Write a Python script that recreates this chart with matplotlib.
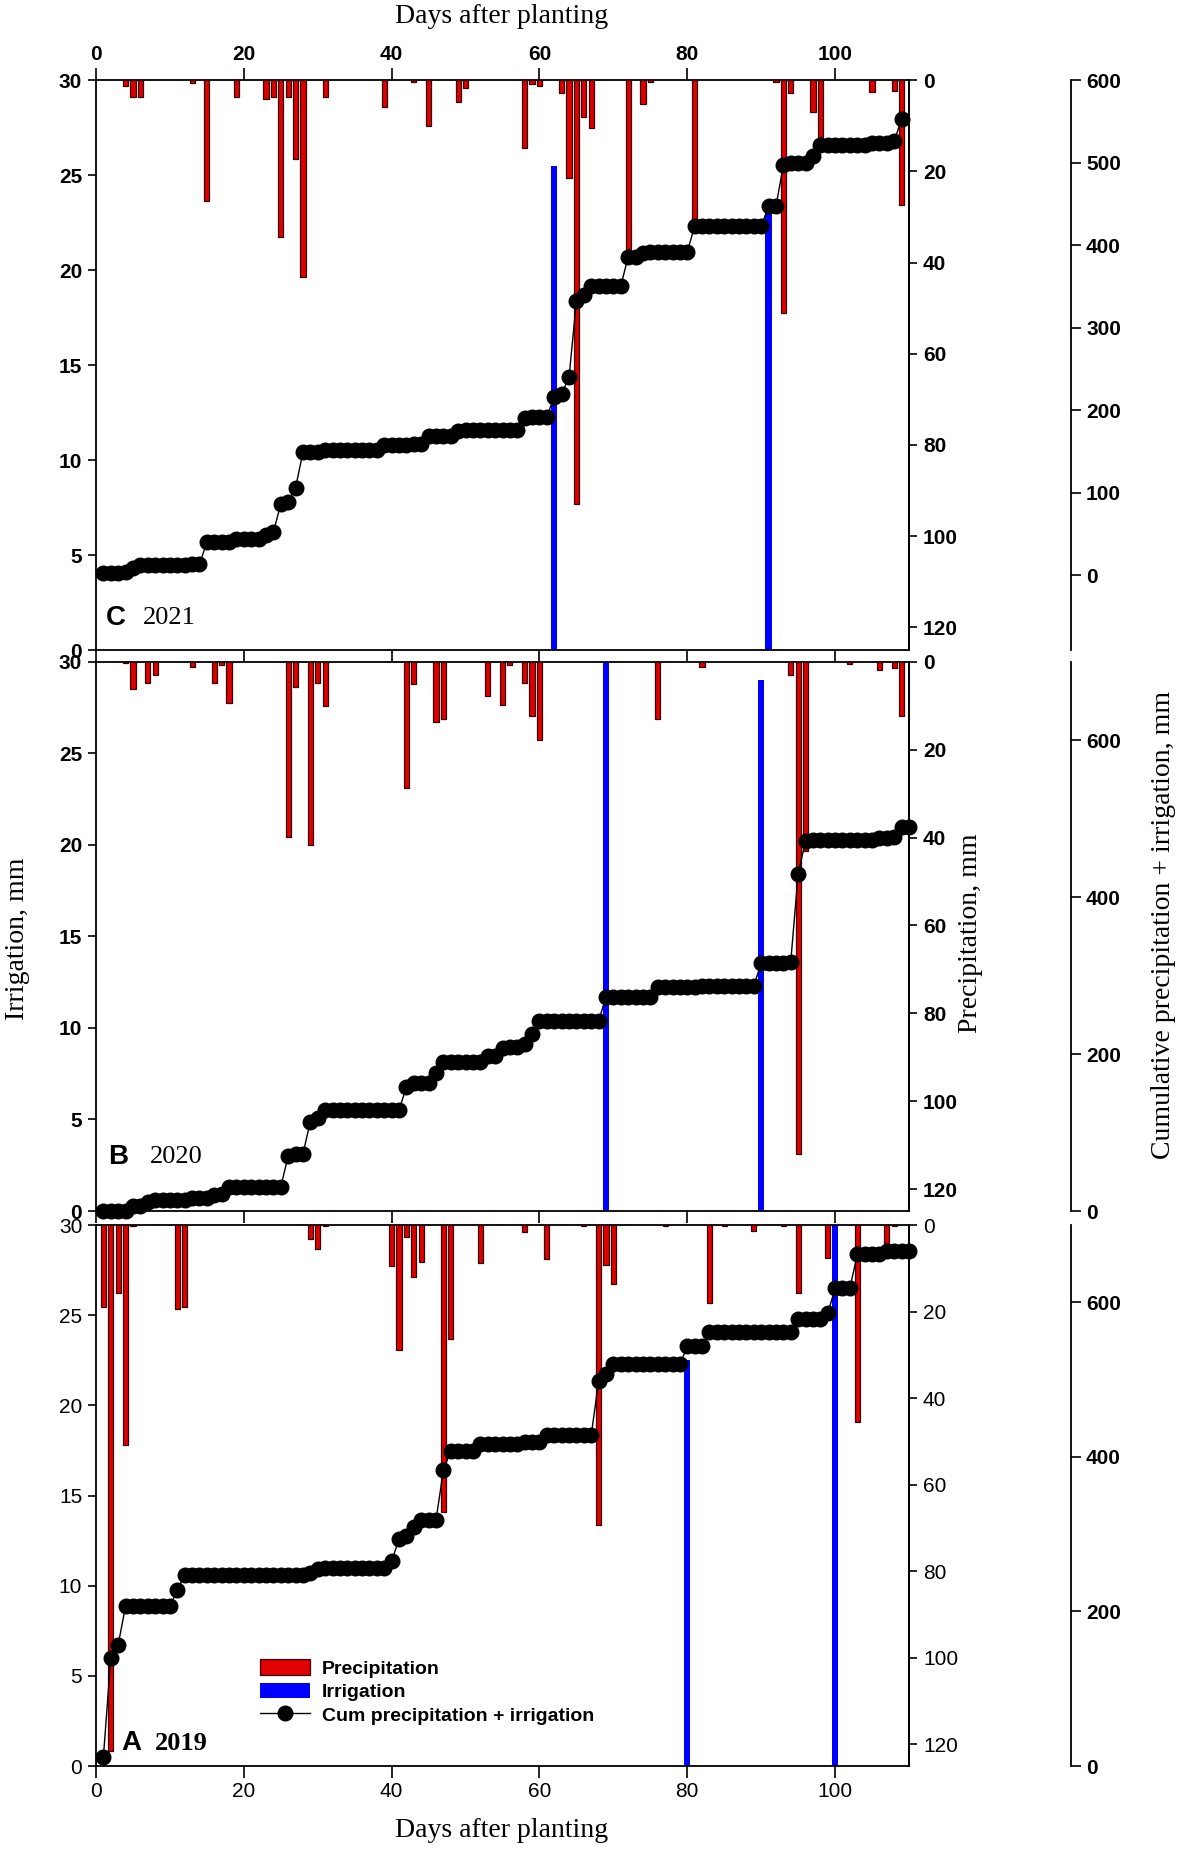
import numpy as np
import matplotlib
matplotlib.use("Agg")
import matplotlib.pyplot as plt
from matplotlib.patches import Patch
from matplotlib.lines import Line2D

plt.rcParams['font.family'] = ['Liberation Sans', 'DejaVu Sans']

# ------------------------------------------------ 2021 (panel C)
p21_day = [4, 5, 6, 13, 15, 19, 23, 24, 25, 26, 27, 28, 31, 39, 43, 45, 49, 50, 58, 59,
           60, 63, 64, 65, 66, 67, 72, 74, 75, 81, 92, 93, 94, 97, 98, 105, 108, 109]
p21_mm = [1.4, 3.6, 3.6, 0.6, 26.5, 3.6, 4.2, 3.6, 34.4, 3.6, 17.3, 43.2, 3.6, 5.9, 0.4, 10.1, 4.7, 1.8, 14.8, 0.9,
          1.4, 2.9, 21.5, 93, 8, 10.4, 37, 5.2, 0.4, 32, 0.4, 51, 2.9, 7, 12.5, 2.5, 2.3, 27.3]
i21_day = [62, 91]
i21_mm = [25.5, 23.5]
c21 = [3, 3, 3, 4, 8, 12, 12, 12, 12, 12,
       12, 12, 13, 13, 40, 40, 40, 40, 44, 44,
       44, 44, 48, 52, 86, 89, 106, 149, 149, 149,
       152, 152, 152, 152, 152, 152, 152, 152, 158, 158,
       158, 158, 159, 159, 169, 169, 169, 169, 174, 176,
       176, 176, 176, 176, 176, 176, 176, 190, 191, 192,
       192, 216, 219, 240, 332, 340, 350, 350, 350, 350,
       350, 386, 386, 391, 392, 392, 392, 392, 392, 392,
       423, 423, 423, 423, 423, 423, 423, 423, 423, 423,
       447, 447, 497, 500, 500, 500, 508, 521, 521, 521,
       521, 521, 521, 521, 524, 524, 524, 526, 553]

# ------------------------------------------------ 2020 (panel B)
p20_day = [4, 5, 7, 8, 13, 16, 17, 18, 26, 27, 29, 30, 31, 42, 43, 46, 47, 53, 55, 56,
           58, 59, 60, 76, 82, 94, 95, 96, 102, 106, 108, 109]
p20_mm = [0.3, 6.1, 4.7, 2.9, 1.1, 4.7, 0.6, 9.4, 39.8, 5.8, 41.7, 4.7, 10.1, 28.6, 5, 13.7, 13.1, 7.7, 9.8, 0.8,
          4.7, 12.4, 17.8, 13.1, 1.1, 2.9, 112, 43, 0.4, 1.9, 1.4, 12.4]
i20_day = [69, 90]
i20_mm = [31, 29]
c20 = [0, 0, 0, 0, 6, 6, 11, 14, 14, 14,
       14, 14, 16, 16, 16, 21, 22, 31, 31, 31,
       31, 31, 31, 31, 31, 70, 73, 73, 114, 119,
       129, 129, 129, 129, 129, 129, 129, 129, 129, 129,
       129, 158, 163, 163, 163, 176, 190, 190, 190, 190,
       190, 190, 198, 198, 208, 209, 209, 213, 226, 242,
       242, 242, 242, 242, 242, 242, 242, 242, 273, 273,
       273, 273, 273, 273, 273, 286, 286, 286, 286, 286,
       286, 287, 287, 287, 287, 287, 287, 287, 287, 316,
       316, 316, 316, 318, 430, 472, 473, 473, 473, 473,
       473, 473, 473, 473, 473, 475, 475, 477, 489, 489]

# ------------------------------------------------ 2019 (panel A)
p19_day = [1, 2, 3, 4, 5, 11, 12, 29, 30, 31, 40, 41, 42, 43, 44, 47, 48, 52, 58, 61,
           66, 68, 69, 70, 77, 83, 85, 89, 93, 95, 99, 103, 107, 108]
p19_mm = [18.9, 121.6, 15.7, 50.9, 0.3, 19.4, 18.9, 3.3, 5.6, 0.3, 9.5, 28.8, 2.7, 12, 8.5, 66.3, 26.4, 8.7, 1.6, 7.9,
          0.3, 69.4, 9.3, 13.7, 0.3, 18.1, 0.3, 1.3, 0.3, 15.6, 7.7, 45.5, 4.4, 0.3]
i19_day = [80, 100]
i19_mm = [22.5, 31]
c19 = [12, 140, 157, 207, 207, 207, 207, 207, 207, 207,
       228, 247, 247, 247, 247, 247, 247, 247, 247, 247,
       247, 247, 247, 247, 247, 247, 247, 247, 250, 255,
       256, 256, 256, 256, 256, 256, 256, 256, 256, 265,
       294, 297, 309, 318, 318, 318, 383, 408, 408, 408,
       408, 417, 417, 417, 417, 417, 417, 419, 419, 419,
       428, 428, 428, 428, 428, 428, 428, 498, 507, 520,
       520, 520, 520, 520, 520, 520, 520, 520, 520, 543,
       543, 543, 561, 561, 561, 561, 561, 561, 562, 562,
       562, 562, 562, 562, 579, 579, 579, 579, 586, 618,
       618, 618, 662, 662, 662, 662, 666, 666, 666, 666]

x_ticks = [0, 20, 40, 60, 80, 100]

RED = '#e00000'
BLUE = '#0000ff'

fig = plt.figure(figsize=(11.81, 18.5), dpi=100)


def set_weight(labels, w):
    for t in labels:
        t.set_fontweight(w)


def panel(rect, idays, imm, pdays, pmm, cum, cum_lim, cum_ticks, xlab, w):
    ax = fig.add_axes(rect)
    ax.bar(idays, imm, width=0.85, color=BLUE, zorder=2)
    ax.set_xlim(0, 110)
    ax.set_ylim(0, 30)
    ax.set_yticks(range(0, 31, 5))
    ax.set_xticks(x_ticks)
    ax.tick_params(axis='y', direction='out', length=6, width=1.2, labelsize=15, pad=4)
    ax.tick_params(axis='x', direction='out', length=8.5, width=1.2, labelsize=15, pad=3)
    if xlab == 'top':
        ax.tick_params(axis='x', top=True, labeltop=True, bottom=True, labelbottom=False)
    elif xlab == 'bottom':
        ax.tick_params(axis='x', top=False, bottom=True, labelbottom=True)
    else:
        ax.tick_params(axis='x', top=False, bottom=True, labelbottom=False)
    for s in ax.spines.values():
        s.set_linewidth(1.3)
    set_weight(ax.get_yticklabels() + ax.get_xticklabels(which='both'), w)
    for t in ax.xaxis.get_major_ticks():
        t.label2.set_fontweight(w)

    axp = ax.twinx()
    axp.bar(pdays, pmm, width=0.7, color=RED, edgecolor='#300000', linewidth=0.9)
    axp.set_ylim(125, 0)
    axp.set_yticks(range(0, 121, 20))
    axp.tick_params(axis='y', direction='out', length=6, width=1.2, labelsize=15, pad=4)
    for k in ['top', 'bottom', 'left']:
        axp.spines[k].set_visible(False)
    axp.spines['right'].set_linewidth(1.3)
    set_weight(axp.get_yticklabels(), w)

    axc = ax.twinx()
    axc.spines['right'].set_position(('axes', 1.199))
    for k in ['top', 'bottom', 'left']:
        axc.spines[k].set_visible(False)
    axc.spines['right'].set_linewidth(1.3)
    days = np.arange(1, len(cum) + 1)
    axc.plot(days, cum, '-o', color='black', ms=10.5, lw=1, clip_on=False)
    axc.set_ylim(*cum_lim)
    axc.set_yticks(cum_ticks)
    axc.tick_params(axis='y', direction='out', length=7, width=1.2, labelsize=15, pad=4)
    set_weight(axc.get_yticklabels(), 'bold')
    return ax


ax_c = panel([0.0813, 0.6486, 0.6884, 0.3081], i21_day, i21_mm, p21_day, p21_mm, c21,
             (-91, 600), range(0, 601, 100), 'top', 'bold')
ax_b = panel([0.0813, 0.3454, 0.6884, 0.2968], i20_day, i20_mm, p20_day, p20_mm, c20,
             (0, 700), [0, 200, 400, 600], 'none', 'bold')
ax_a = panel([0.0813, 0.0454, 0.6884, 0.2924], i19_day, i19_mm, p19_day, p19_mm, c19,
             (0, 700), [0, 200, 400, 600], 'bottom', 'normal')

# axis titles
serif = 'Liberation Serif'
fig.text(0.425, 0.991, 'Days after planting', family=serif, fontsize=20, ha='center', va='center')
fig.text(0.425, 0.0105, 'Days after planting', family=serif, fontsize=20, ha='center', va='center')
fig.text(0.0144, 0.4924, 'Irrigation, mm', family=serif, fontsize=20,
         rotation=90, ha='center', va='center')
fig.text(0.822, 0.4957, 'Precipitation, mm', family=serif, fontsize=20,
         rotation=90, ha='center', va='center')
fig.text(0.985, 0.5, 'Cumulative precipitation + irrigation, mm', family=serif,
         fontsize=20, rotation=90, ha='center', va='center')

# panel tags
fig.text(0.0898, 0.666, 'C', fontsize=20, weight='bold', ha='left', va='center')
fig.text(0.121, 0.666, '2021', family=serif, fontsize=19, ha='left', va='center')
fig.text(0.0914, 0.3746, 'B', fontsize=20, weight='bold', ha='left', va='center')
fig.text(0.127, 0.3746, '2020', family=serif, fontsize=19, ha='left', va='center')
fig.text(0.1025, 0.0578, 'A', fontsize=20, weight='bold', ha='left', va='center')
fig.text(0.1312, 0.0578, '2019', family=serif, weight='bold', fontsize=19, ha='left', va='center')

handles = [Patch(facecolor=RED, edgecolor='#300000', linewidth=0.9),
           Patch(facecolor=BLUE, edgecolor='none'),
           Line2D([], [], color='black', marker='o', ms=10.5, lw=1)]
fig.legend(handles, ['Precipitation', 'Irrigation', 'Cum precipitation + irrigation'],
           loc='upper left', bbox_to_anchor=(0.22, 0.103), frameon=False,
           prop={'size': 14, 'weight': 'bold'},
           handlelength=2.6, handleheight=0.85, labelspacing=0.25, handletextpad=0.6,
           borderpad=0, borderaxespad=0)

fig.savefig('out.png', dpi=100)
